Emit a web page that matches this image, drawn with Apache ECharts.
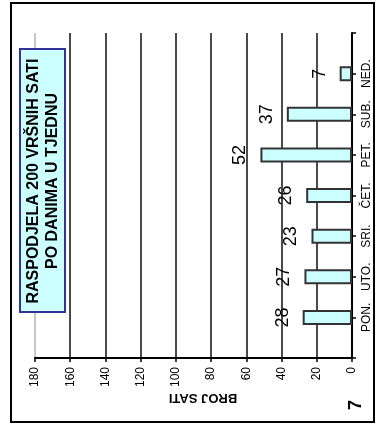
<!DOCTYPE html>
<html>
<head>
<meta charset="utf-8">
<script src="https://cdn.jsdelivr.net/npm/echarts@6/dist/echarts.min.js"></script>
<style>
  html, body { margin: 0; padding: 0; background: #fff; }
  #chart { width: 377px; height: 432px; }
</style>
</head>
<body>
<div id="chart"></div>
<script>
// ---- data ----
const categories = ['PON.', 'UTO.', 'SRI.', 'ČET.', 'PET.', 'SUB.', 'NED.'];
const hours = [28, 27, 23, 26, 52, 37, 7];
const valueMin = 0;
const valueMax = 180;
const valueStep = 20;
const titleLines = ['RASPODJELA 200 VRŠNIH SATI', 'PO DANIMA U TJEDNU'];
const axisTitle = 'BROJ SATI';
const pageNumber = '7';

// category axis padded by one empty slot on both ends (axis spans 8 steps)
const axisCategories = [''].concat(categories).concat([' ']);
const barData = ['-'].concat(hours).concat(['-']);

const font = 'Arial, "Liberation Sans", sans-serif';
const splitColors = [];
for (let v = valueMin; v <= valueMax; v += valueStep) {
  splitColors.push(v === valueMax ? '#c8c8c8' : '#4a4a4a');
}

const chart = echarts.init(document.getElementById('chart'), null, { renderer: 'canvas' });
chart.setOption({
  backgroundColor: '#ffffff',
  animation: false,
  grid: { left: 35, right: 25, top: 33, bottom: 74, containLabel: false },
  xAxis: {
    type: 'value',
    inverse: true,
    min: valueMin,
    max: valueMax,
    interval: valueStep,
    position: 'bottom',
    axisLine: { show: true, onZero: false, lineStyle: { color: '#000', width: 2 } },
    axisTick: { show: true, length: 4, lineStyle: { color: '#000', width: 1.5 } },
    axisLabel: { rotate: 90, margin: 9, fontSize: 12, color: '#000', fontFamily: font },
    splitLine: { show: true, lineStyle: { color: splitColors, width: 2 } }
  },
  yAxis: {
    type: 'category',
    data: axisCategories,
    boundaryGap: false,
    position: 'right',
    axisLine: { show: true, onZero: false, lineStyle: { color: '#000', width: 2 } },
    axisTick: { show: true, length: 4, interval: 0, lineStyle: { color: '#000', width: 1.5 } },
    axisLabel: { rotate: 90, margin: 9, fontSize: 12, color: '#000', fontFamily: font, interval: 0 },
    splitLine: { show: false }
  },
  series: [{
    type: 'bar',
    data: barData,
    barWidth: 15,
    itemStyle: { color: '#ccffff', borderColor: '#333333', borderWidth: 2 },
    label: {
      show: true,
      position: 'left',
      distance: 20,
      rotate: 90,
      align: 'center',
      verticalAlign: 'middle',
      fontSize: 18,
      color: '#000',
      fontFamily: font
    }
  }],
  graphic: [
    {
      type: 'rect',
      shape: { x: 11, y: 3, width: 363, height: 419 },
      style: { fill: 'none', stroke: '#000', lineWidth: 2 },
      z: 10
    },
    {
      type: 'rect',
      shape: { x: 20, y: 49, width: 45, height: 263 },
      style: { fill: '#ccffff', stroke: '#333399', lineWidth: 2 },
      z: 10
    },
    {
      type: 'text',
      x: 43, y: 181,
      rotation: Math.PI / 2,
      style: {
        text: titleLines.join('\n'),
        font: 'bold 16px ' + font,
        fill: '#000',
        align: 'center',
        verticalAlign: 'middle',
        lineHeight: 18.5
      },
      z: 11
    },
    {
      type: 'text',
      x: 203, y: 398,
      rotation: Math.PI,
      style: {
        text: axisTitle,
        font: 'bold 13px ' + font,
        fill: '#000',
        align: 'center',
        verticalAlign: 'middle'
      },
      z: 11
    },
    {
      type: 'text',
      x: 356, y: 405,
      rotation: Math.PI / 2,
      style: {
        text: pageNumber,
        font: 'bold 18px ' + font,
        fill: '#000',
        align: 'center',
        verticalAlign: 'middle'
      },
      z: 11
    }
  ]
});
</script>
</body>
</html>
